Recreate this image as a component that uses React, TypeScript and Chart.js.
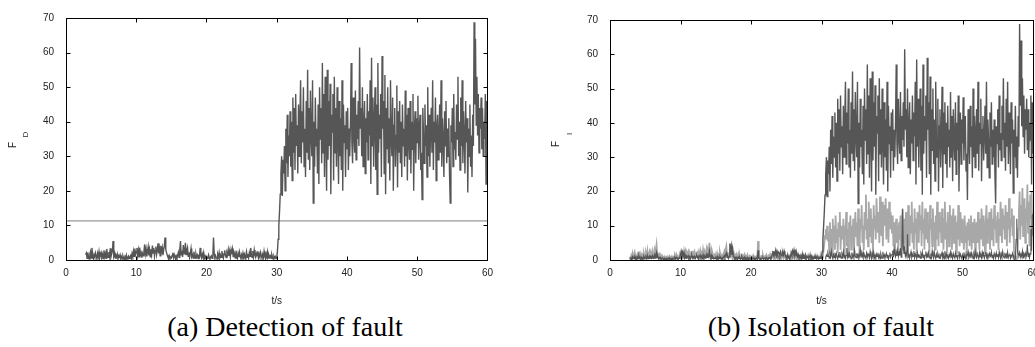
import { useEffect, useRef } from "react";
import { Chart, registerables } from "chart.js";

Chart.register(...registerables);

// ---- data (sampled every 0.1 s) ----
const T_START = 2.8;
const DT = 0.1;
const LOW_START = 30.5;
const X_TICKS = [0, 10, 20, 30, 40, 50, 60];
const Y_TICKS = [0, 10, 20, 30, 40, 50, 60, 70];
const THRESHOLD = 11.3;
const CAPTION_A = "(a) Detection of fault";
const CAPTION_B = "(b) Isolation of fault";
const X_TITLE = "t/s";

// Detection index F_D, 2.8 s .. 60 s
const FD = [
  1.5, 2.0,
  0.5, 2.2, 1.0, 0.3, 1.8, 2.5, 0.6, 3.5, 1.2, 0.4,
  1.5, 0.8, 2.0, 1.1, 0.3, 1.9, 0.9, 2.4, 0.6, 1.3,
  2.1, 0.7, 1.6, 0.4, 2.8, 1.0, 1.9, 0.5, 3.2, 1.4,
  0.8, 2.3, 1.1, 3.4, 0.9, 1.8, 2.6, 5.5, 1.2, 2.0,
  0.6, 1.4, 0.9, 1.7, 0.3, 1.1, 0.8, 1.5, 0.4, 0.9,
  0.3, 1.2, 0.6, 0.2, 1.0, 0.5, 1.4, 0.3, 0.7, 1.1,
  0.4, 0.9, 1.3, 0.5, 1.8, 0.8, 2.5, 1.1, 3.3, 1.6,
  2.4, 3.5, 1.2, 2.8, 0.9, 3.6, 1.5, 2.1, 0.7, 1.9,
  1.2, 2.6, 4.5, 1.8, 3.2, 1.0, 2.4, 3.8, 1.3, 2.9,
  0.9, 3.1, 1.7, 4.2, 2.0, 3.5, 1.1, 2.7, 3.9, 1.6,
  2.8, 4.8, 1.9, 3.3, 1.2, 4.1, 2.5, 3.6, 1.4, 2.9,
  4.0, 6.5, 3.1, 2.2, 1.5, 0.9, 0.5, 1.2, 0.4, 0.8,
  0.6, 1.3, 2.1, 0.7, 1.6, 0.9, 0.4, 1.1, 0.5, 1.4,
  2.2, 0.8, 3.1, 5.5, 1.5, 2.7, 0.9, 4.3, 1.8, 2.5,
  5.0, 1.6, 2.8, 3.6, 1.1, 2.2, 0.7, 1.9, 3.3, 1.0,
  1.5, 0.6, 2.4, 1.2, 0.5, 1.8, 0.9, 1.4, 0.4, 1.1,
  0.8, 3.5, 1.3, 0.6, 1.7, 0.9, 2.1, 0.5, 1.2, 0.7,
  1.0, 0.4, 0.8, 1.5, 0.6, 0.3, 0.9, 1.2, 0.5, 0.7,
  6.5, 1.8, 0.4, 1.2, 0.7, 0.3, 1.6, 0.9, 2.1, 0.6,
  1.4, 0.8, 2.6, 1.1, 0.5, 1.9, 2.8, 1.3, 0.7, 2.2,
  1.6, 3.0, 1.2, 2.5, 0.9, 2.9, 1.7, 3.1, 1.0, 2.4,
  1.8, 0.6, 2.7, 1.3, 0.5, 1.9, 0.8, 2.3, 1.1, 0.4,
  1.5, 0.7, 2.0, 0.9, 1.6, 0.3, 1.2, 2.4, 0.8, 1.7,
  0.6, 2.1, 1.1, 3.5, 1.4, 0.7, 2.6, 1.0, 2.9, 1.5,
  0.8, 1.9, 1.2, 2.5, 0.6, 1.7, 0.9, 2.2, 1.3, 0.5,
  1.6, 0.7, 2.5, 1.1, 0.4, 1.8, 0.9, 2.3, 0.6, 1.4,
  0.8, 1.2, 0.5, 1.6, 0.9, 0.3, 1.1, 0.6, 1.0, 0.4,
  0.6, 2.5, 6.0, 10.0, 14.0, 19.0, 25.0, 30.0, 18.5, 29.0,
  25, 33, 20, 38, 28, 42, 24, 36, 30, 43,
  27, 40, 23, 47, 31, 44, 26, 48, 33, 39,
  25, 45, 30, 41, 52, 28, 43, 34, 50, 27,
  38, 24, 46, 31, 55, 29, 44, 26, 49, 36,
  30, 52, 16.5, 40, 27, 47, 33, 38, 25, 45,
  22, 50, 35, 44, 28, 57, 31, 48, 24, 53,
  36, 20, 55, 29, 46, 33, 51, 19, 42, 37,
  48, 23, 53, 31, 44, 27, 50, 35, 22, 46,
  30, 41, 26, 52, 20, 45, 34, 39, 24, 43,
  32, 44, 26, 38, 30, 40, 57, 34, 28, 47,
  36, 31, 49, 29, 42, 35, 46, 33, 61.5, 38,
  44, 30, 50, 27, 39, 46, 25, 41, 34, 48,
  29, 43, 36, 52, 22, 58.5, 33, 47, 27, 40,
  50, 26, 45, 19, 57, 31, 42, 35, 48, 24,
  59, 38, 46, 25, 53.5, 19, 44, 32, 50, 28,
  41, 23, 52, 35, 30, 47, 20, 39, 44, 27,
  36, 50.5, 21, 43, 31, 46, 28, 40, 24, 45,
  33, 38, 27, 49, 30, 42, 23, 44, 35, 29,
  46, 25, 40, 32, 48, 20, 37, 43, 28, 41,
  34, 47.5, 29, 38, 42, 26, 31, 17.5, 44, 36,
  28, 45, 33, 39, 24, 50, 30, 42, 27, 37,
  44, 31, 52, 26, 40, 34, 47, 23, 38, 42,
  29, 36, 45, 31, 52, 27, 41, 35, 24, 43,
  33, 46, 28, 38, 30, 41, 25, 16.5, 39, 34,
  44, 27, 48, 32, 37, 29, 45, 35, 53, 30,
  40, 26, 47, 33, 52, 28, 43, 36, 25, 46,
  34, 41, 19.5, 38, 30, 45, 27, 36, 24, 42,
  33, 68.8, 45, 64, 39, 53, 36, 48, 31, 44,
  38, 47, 32, 44, 30, 40, 35, 48, 22, 46,
  31,
];

// Faulty-variable isolation index before the fault, 2.8 s .. 29.9 s (after that it follows FD)
const FI_DARK_PRE = [
  0.5, 0.3,
  0.6, 0.2, 0.9, 0.4, 0.7, 1.1, 0.3, 0.8, 0.5, 0.9,
  0.4, 1.2, 0.6, 0.3, 0.9, 0.5, 0.7, 0.3, 1.0, 0.6,
  0.4, 0.9, 0.5, 1.3, 0.4, 0.8, 1.1, 0.5, 0.9, 0.6,
  1.2, 0.5, 0.8, 1.4, 0.6, 1.5, 2.2, 0.7, 1.0, 0.4,
  0.7, 0.3, 0.5, 0.2, 0.6, 0.4, 0.2, 0.5, 0.3, 0.4,
  0.2, 0.5, 0.2, 0.4, 0.6, 0.3, 0.4, 0.2, 0.5, 0.3,
  0.5, 0.3, 0.7, 0.4, 0.8, 0.5, 0.6, 0.3, 0.5, 0.7,
  1.5, 2.6, 1.8, 2.4, 1.2, 2.0, 0.7, 1.2, 0.5, 1.1,
  0.9, 1.2, 0.6, 1.0, 0.4, 0.9, 1.3, 0.6, 1.0, 0.8,
  1.1, 0.5, 0.9, 1.2, 0.7, 1.1, 0.5, 1.0, 1.4, 0.7,
  1.0, 0.6, 1.5, 0.8, 1.2, 0.6, 1.0, 1.6, 0.8, 1.3,
  0.9, 2.5, 1.1, 0.7, 1.3, 0.5, 0.8, 0.4, 0.6, 0.4,
  0.6, 0.3, 1.0, 0.5, 0.8, 0.4, 1.0, 0.6, 0.3, 0.7,
  0.5, 0.9, 1.2, 0.6, 1.5, 2.0, 0.8, 1.1, 0.5, 0.9,
  4.8, 2.5, 4.0, 1.5, 3.2, 1.0, 0.9, 0.4, 0.7, 0.3,
  0.6, 0.3, 0.8, 0.5, 0.7, 0.2, 0.5, 0.9, 0.3, 0.6,
  0.4, 0.8, 0.3, 0.6, 0.4, 0.7, 0.2, 0.5, 0.6, 0.3,
  0.5, 0.3, 0.4, 0.7, 0.3, 0.2, 0.5, 0.4, 0.6, 0.3,
  2.8, 0.6, 0.3, 0.5, 0.2, 0.5, 0.4, 0.7, 0.3, 0.4,
  0.6, 0.3, 0.7, 0.4, 0.3, 0.6, 0.5, 0.8, 0.4, 0.5,
  1.8, 2.6, 1.5, 2.2, 1.9, 2.8, 1.4, 2.5, 1.7, 2.3,
  2.0, 1.4, 2.4, 1.6, 1.2, 2.1, 1.5, 2.6, 1.8, 1.3,
  1.1, 0.5, 1.4, 0.7, 1.0, 0.4, 0.8, 2.2, 1.5, 2.6,
  1.8, 2.9, 1.6, 2.4, 1.2, 1.9, 1.0, 1.5, 0.7, 1.1,
  0.6, 1.2, 0.8, 1.6, 0.5, 1.1, 0.7, 1.4, 0.4, 0.9,
  0.7, 1.1, 0.5, 0.9, 1.3, 0.6, 1.0, 0.4, 0.8, 0.6,
  0.9, 0.5, 0.8, 0.4, 1.0, 0.6, 0.3, 0.7, 0.5, 0.8,
];

// Isolation index of a non-faulty variable (light grey, panel b), 2.8 s .. 60 s
const FI_LIGHT = [
  1.0, 0.5,
  1.2, 0.4, 1.8, 0.7, 1.5, 2.2, 0.6, 1.3, 0.9, 1.6,
  0.8, 2.5, 1.1, 0.5, 1.7, 0.9, 1.4, 0.6, 2.0, 1.2,
  0.7, 1.9, 1.0, 2.6, 0.8, 1.5, 2.3, 0.9, 1.8, 1.1,
  2.4, 0.9, 1.6, 2.8, 1.2, 3.0, 4.5, 1.3, 2.1, 0.8,
  1.4, 0.6, 1.0, 0.4, 1.2, 0.7, 0.3, 0.9, 0.5, 0.8,
  0.4, 0.9, 0.3, 0.7, 1.1, 0.5, 0.8, 0.3, 1.0, 0.6,
  0.9, 0.5, 1.3, 0.7, 1.6, 0.9, 1.2, 0.6, 1.0, 1.4,
  0.8, 1.5, 0.6, 1.2, 0.9, 2.5, 1.3, 2.4, 1.0, 2.2,
  1.7, 2.4, 1.1, 2.0, 0.8, 1.9, 2.6, 1.2, 2.1, 1.5,
  2.3, 1.0, 1.8, 2.5, 1.3, 2.2, 0.9, 1.9, 2.8, 1.4,
  2.0, 1.2, 3.0, 1.6, 2.4, 1.1, 2.1, 3.2, 1.5, 2.6,
  1.8, 5.0, 2.2, 1.4, 2.7, 1.0, 1.6, 0.8, 1.3, 0.7,
  1.2, 0.6, 1.9, 1.0, 1.5, 0.7, 2.1, 1.1, 0.5, 1.4,
  0.9, 1.7, 2.4, 1.2, 3.0, 4.0, 1.5, 2.2, 1.0, 1.8,
  3.2, 1.4, 2.0, 1.1, 2.6, 1.0, 1.7, 0.8, 1.3, 0.6,
  1.1, 0.5, 1.6, 0.9, 1.3, 0.4, 1.0, 1.8, 0.6, 1.2,
  0.8, 1.5, 0.5, 1.1, 0.7, 1.4, 0.4, 0.9, 1.2, 0.6,
  1.0, 0.5, 0.8, 1.3, 0.6, 0.4, 0.9, 0.7, 1.1, 0.5,
  5.5, 1.2, 0.6, 0.9, 0.4, 1.0, 0.7, 1.3, 0.5, 0.8,
  1.1, 0.6, 1.4, 0.8, 0.5, 1.2, 0.9, 1.6, 0.7, 1.0,
  0.8, 1.3, 0.6, 1.1, 0.5, 1.5, 0.9, 1.2, 0.4, 1.0,
  1.4, 0.7, 1.1, 0.5, 0.9, 1.6, 0.6, 1.2, 0.8, 0.4,
  1.0, 0.6, 1.5, 0.8, 1.2, 0.5, 0.9, 1.3, 0.6, 1.1,
  0.7, 1.2, 0.5, 1.6, 0.9, 0.6, 1.4, 0.8, 1.1, 0.5,
  1.3, 0.7, 1.0, 1.8, 0.6, 1.2, 0.8, 1.5, 0.5, 1.0,
  0.9, 1.4, 0.6, 1.1, 1.7, 0.7, 1.2, 0.5, 1.0, 0.8,
  1.2, 0.6, 1.0, 0.5, 1.3, 0.8, 0.4, 0.9, 0.6, 1.1,
  0.5, 0.7, 1.5, 3.0, 5.0, 7.0, 9.0, 6.0, 10.0, 5.5,
  8, 2, 11, 5, 9, 1.5, 12, 6, 10, 3,
  13, 5, 9, 2, 11, 7, 14, 3, 8, 10,
  6, 12, 1.5, 10, 7, 14, 4, 9, 2, 11,
  8, 13, 3, 10, 6, 12, 2, 9, 14, 7,
  11, 4, 15, 8, 2, 12, 9, 16, 5, 10,
  3, 14, 9, 19, 6, 12, 4, 17, 10, 7,
  15, 5, 12, 2, 16, 9, 13, 6, 18, 11,
  8, 14, 5, 18.5, 11, 7, 17, 4, 13, 16,
  10, 18, 6, 15, 12, 5, 17, 9, 14, 11,
  8, 13, 4, 11, 2, 9, 12, 5, 10, 3,
  11, 6, 13, 3, 9, 15, 5, 12, 2, 10,
  14, 7, 2, 16, 10, 4, 13, 8, 17, 5,
  11, 3, 15, 8, 12, 2, 14, 10, 5, 16,
  9, 13, 4, 17, 8, 12, 3, 15, 11, 6,
  14, 5, 10, 2, 16, 9, 12, 4, 15, 7,
  11, 3, 13, 6, 17, 10, 4, 14, 8, 12,
  5, 15, 9, 3, 12, 17, 6, 11, 2, 14,
  10, 4, 16, 8, 13, 3, 11, 15, 5, 9,
  13, 2, 11, 6, 16, 9, 4, 14, 10, 5,
  12, 7, 3, 13, 5, 10, 2, 11, 6, 12,
  4, 10, 13, 3, 9, 11, 5, 12, 2, 8,
  11, 5, 14, 9, 3, 12, 6, 15, 10, 4,
  13, 7, 2, 11, 16, 5, 12, 9, 14, 3,
  10, 15, 6, 12, 4, 16, 9, 13, 5, 11,
  14, 3, 12, 7, 17, 10, 5, 15, 9, 13,
  6, 16, 11, 4, 14, 9, 18, 5, 12, 10,
  15, 7, 13, 3, 0.5, 0.3, 0.8, 0.4, 0.6, 9,
  14, 20, 6, 16, 10, 21, 7, 13, 18, 5,
  15, 11, 22, 8, 17, 4, 19, 12, 20, 7,
  14,
];

// Isolation index of another non-faulty variable (dark, low, panel b), 30.5 s .. 60 s
const FI_LOW = [
  0.3, 0.8, 1.5, 1.0, 2.0,
  1.2, 0.5, 1.8, 0.9, 2.6, 1.1, 0.4, 1.5, 0.7, 2.1,
  0.6, 1.9, 1.0, 0.3, 1.6, 0.8, 2.3, 1.2, 0.5, 1.8,
  1.0, 2.4, 0.6, 1.5, 0.4, 1.3, 3.5, 0.8, 1.7, 0.5,
  1.9, 1.0, 0.3, 2.2, 0.9, 1.5, 0.5, 2.8, 1.1, 0.7,
  2.0, 0.9, 1.6, 0.4, 1.3, 3.0, 0.7, 1.8, 1.0, 2.3,
  0.6, 1.5, 1.1, 0.4, 2.0, 0.8, 1.8, 1.2, 0.5, 2.5,
  1.2, 0.3, 1.9, 0.9, 2.3, 0.6, 1.4, 0.4, 1.7, 1.0,
  2.1, 0.7, 1.4, 0.3, 1.9, 1.1, 0.5, 2.4, 0.9, 1.5,
  0.4, 1.3, 2.0, 0.7, 1.6, 0.3, 1.2, 2.2, 0.8, 1.5,
  1.5, 2.8, 0.8, 3.2, 1.6, 0.9, 2.4, 1.2, 2.9, 1.0,
  2.4, 1.3, 3.5, 0.8, 2.0, 14.8, 4.0, 1.8, 3.0, 1.1,
  2.0, 1.1, 7.5, 0.8, 1.9, 0.4, 1.4, 2.4, 0.7, 1.6,
  1.0, 2.6, 0.6, 1.8, 1.2, 0.4, 2.1, 0.8, 1.5, 1.3,
  0.5, 1.8, 1.0, 2.4, 0.7, 1.6, 0.3, 1.4, 2.5, 0.9,
  1.7, 0.6, 2.1, 1.0, 0.4, 1.9, 0.8, 2.7, 1.2, 0.5,
  2.3, 1.1, 0.4, 1.7, 0.8, 2.0, 1.3, 0.5, 1.9, 0.7,
  1.4, 2.2, 0.6, 1.5, 0.3, 2.6, 1.0, 1.8, 0.7, 1.2,
  0.4, 1.6, 1.0, 2.3, 0.8, 1.4, 0.4, 1.9, 1.1, 0.6,
  2.0, 0.9, 1.6, 0.3, 1.3, 2.5, 0.7, 1.7, 1.1, 0.4,
  1.5, 0.7, 2.2, 1.0, 0.4, 1.8, 0.9, 1.4, 2.4, 0.6,
  1.2, 1.9, 0.5, 2.1, 1.3, 0.4, 1.7, 0.8, 2.5, 1.0,
  0.6, 1.8, 1.2, 0.4, 2.2, 0.9, 1.5, 0.6, 2.3, 1.2,
  1.9, 0.5, 1.4, 2.3, 0.8, 1.6, 0.3, 1.3, 2.0, 0.9,
  1.1, 2.4, 0.7, 1.5, 0.4, 1.9, 1.2, 0.5, 2.1, 1.0,
  1.7, 0.6, 2.4, 1.1, 0.4, 1.8, 0.8, 2.5, 1.2, 0.6,
  2.1, 1.0, 1.6, 0.4, 2.3, 0.7, 1.4, 1.9, 0.5, 1.3,
  0.9, 2.0, 1.3, 0.3, 0.2, 0.3, 6.0, 12.0, 3.0, 1.5,
  1.4, 2.2, 0.8, 1.7, 1.0, 2.6, 0.6, 1.8, 1.2, 2.0,
  0.7, 1.5, 4.5, 1.0, 2.2, 0.6, 1.8, 9.0, 2.7, 13.0,
  13.3,
];

const FI_DARK = FI_DARK_PRE.concat(FD.slice(FI_DARK_PRE.length));

const DARK = "#565656";
const LIGHT = "#a8a8a8";

function toPoints(values: number[], start: number) {
  return values.map((v, i) => ({ x: Math.round((start + i * DT) * 100) / 100, y: v }));
}

const framePlugin = {
  id: "frame",
  afterDraw(chart: any, _args: any, opts: any) {
    const { ctx, chartArea: a, scales } = chart;
    ctx.save();
    ctx.strokeStyle = "#000";
    ctx.lineWidth = 1;
    const l = Math.round(a.left) + 0.5;
    const r = Math.round(a.right) + 0.5;
    const t = Math.round(a.top) + 0.5;
    const b = Math.round(a.bottom) + 0.5;
    ctx.strokeRect(l, t, r - l, b - t);
    ctx.beginPath();
    X_TICKS.forEach((v) => {
      const x = Math.round(scales.x.getPixelForValue(v)) + 0.5;
      ctx.moveTo(x, b);
      ctx.lineTo(x, b - 4);
      ctx.moveTo(x, t);
      ctx.lineTo(x, t + 4);
    });
    Y_TICKS.forEach((v) => {
      const y = Math.round(scales.y.getPixelForValue(v)) + 0.5;
      ctx.moveTo(l, y);
      ctx.lineTo(l + 4, y);
      ctx.moveTo(r, y);
      ctx.lineTo(r - 4, y);
    });
    ctx.stroke();

    ctx.fillStyle = "#222";
    ctx.textAlign = "center";
    ctx.textBaseline = "middle";
    ctx.font = '10px "Liberation Sans", Arial, sans-serif';
    ctx.fillText(X_TITLE, (a.left + a.right) / 2, opts.xTitleY);
    ctx.save();
    ctx.translate(opts.fx, opts.fy);
    ctx.rotate(-Math.PI / 2);
    ctx.font = '10px "Liberation Sans", Arial, sans-serif';
    ctx.fillText(opts.main, 0, 0);
    ctx.restore();
    ctx.save();
    ctx.translate(opts.sx, opts.sy);
    ctx.rotate(-Math.PI / 2);
    ctx.font = '8px "Liberation Sans", Arial, sans-serif';
    ctx.fillText(opts.sub, 0, 0);
    ctx.restore();
    ctx.restore();
  },
};

function makeOptions(yWidth: number, padding: any, label: any) {
  const tickFont = { family: '"Liberation Sans", Arial, sans-serif', size: 10 };
  return {
    responsive: false,
    animation: false as const,
    events: [],
    layout: { padding },
    plugins: {
      legend: { display: false },
      tooltip: { enabled: false },
      frame: label,
    },
    elements: {
      point: { radius: 0 },
      line: { borderWidth: 1, tension: 0 },
    },
    scales: {
      x: {
        type: "linear" as const,
        min: 0,
        max: 60,
        grid: { display: false, drawTicks: false },
        border: { display: false },
        ticks: { stepSize: 10, padding: 7, color: "#222", font: tickFont, maxRotation: 0 },
        afterFit: (s: any) => {
          s.height = 50;
        },
      },
      y: {
        type: "linear" as const,
        min: 0,
        max: 70,
        grid: { display: false, drawTicks: false },
        border: { display: false },
        ticks: { stepSize: 10, padding: 12, color: "#222", font: tickFont },
        afterFit: (s: any) => {
          s.width = yWidth;
        },
      },
    },
  };
}

export default function App() {
  const leftRef = useRef<HTMLCanvasElement>(null);
  const rightRef = useRef<HTMLCanvasElement>(null);

  useEffect(() => {
    const left = new Chart(leftRef.current as HTMLCanvasElement, {
      type: "line",
      data: {
        datasets: [
          { data: toPoints(FD, T_START), borderColor: DARK, borderWidth: 1.4, pointRadius: 0 },
          {
            data: [
              { x: 0, y: THRESHOLD },
              { x: 60, y: THRESHOLD },
            ],
            borderColor: "#7d7d7d",
            borderWidth: 1,
            pointRadius: 0,
          },
        ],
      },
      options: makeOptions(66, { top: 17, right: 12, bottom: 0, left: 0 }, {
        main: "F",
        sub: "D",
        fx: 13,
        fy: 145,
        sx: 25.5,
        sy: 134.5,
        xTitleY: 301,
      }) as any,
      plugins: [framePlugin],
    });

    const right = new Chart(rightRef.current as HTMLCanvasElement, {
      type: "line",
      data: {
        datasets: [
          { data: toPoints(FI_DARK, T_START), borderColor: DARK, borderWidth: 1.4, pointRadius: 0 },
          { data: toPoints(FI_LOW, LOW_START), borderColor: DARK, borderWidth: 1.1, pointRadius: 0 },
          { data: toPoints(FI_LIGHT, T_START), borderColor: LIGHT, borderWidth: 1.8, pointRadius: 0 },
        ],
      },
      options: makeOptions(91, { top: 20, right: 16, bottom: 0, left: 0 }, {
        main: "F",
        sub: "I",
        fx: 37,
        fy: 144,
        sx: 51,
        sy: 134,
        xTitleY: 301,
      }) as any,
      plugins: [framePlugin],
    });

    return () => {
      left.destroy();
      right.destroy();
    };
  }, []);

  const captionStyle: any = {
    position: "absolute",
    top: 313,
    width: 400,
    textAlign: "center",
    fontFamily: '"Liberation Serif", "Times New Roman", serif',
    fontSize: 28,
    lineHeight: "28px",
    color: "#000",
    whiteSpace: "nowrap",
  };

  return (
    <div
      style={{
        position: "fixed",
        left: 0,
        top: 0,
        width: 1035,
        height: 347,
        overflow: "hidden",
        background: "#fff",
      }}
    >
      <canvas ref={leftRef} width={500} height={310} style={{ position: "absolute", left: 0, top: 0 }} />
      <canvas ref={rightRef} width={530} height={310} style={{ position: "absolute", left: 519, top: 0 }} />
      <div style={{ ...captionStyle, left: 285 - 200 }}>{CAPTION_A}</div>
      <div style={{ ...captionStyle, left: 821 - 200 }}>{CAPTION_B}</div>
    </div>
  );
}
